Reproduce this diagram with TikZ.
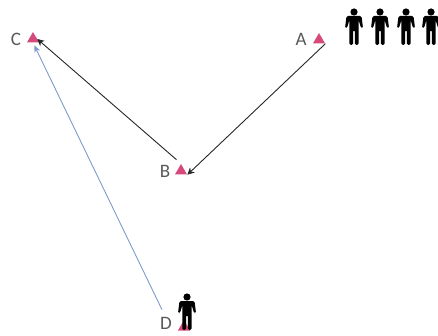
\documentclass[tikz,border=0pt]{standalone}
\usepackage{fontspec}
\setmainfont{Carlito}
\usetikzlibrary{shapes.geometric,arrows.meta}
\tikzset{
  site/.style={regular polygon, regular polygon sides=3, fill=sitepink, inner sep=0pt, minimum size=14pt},
  sitelabel/.style={text=black!65, font=\fontsize{19pt}{19pt}\selectfont, inner sep=0pt},
  route/.style={-{Stealth[length=7pt,width=7pt]}, line width=0.9pt, black!85},
  routeblue/.style={-{Stealth[length=7pt,width=6pt]}, line width=0.9pt, bluegrey},
  person/.pic={
    \fill (0,14) circle (3.6);
    \fill[rounded corners=1.5pt] (-9,-2) -- (-7.5,10) -- (7.5,10) -- (9,-2) -- (7,-2) -- (4.6,6) -- (4.6,-19) -- (0.9,-19) -- (0.9,-4) -- (-0.9,-4) -- (-0.9,-19) -- (-4.6,-19) -- (-4.6,6) -- (-7,-2) -- cycle;
  }
}
\definecolor{sitepink}{HTML}{D6497C}
\definecolor{bluegrey}{HTML}{7F9BC9}
\begin{document}
\begin{tikzpicture}[x=1pt,y=-1pt]
	\useasboundingbox (0,0) rectangle (438,336);
	% sites
	\node[site] (A) at (319,40) {};
	\node[site] (B) at (181,171) {};
	\node[site] (C) at (33,39) {};
	\node[site] (D) at (184,327) {};
	\node[sitelabel] (Alabel) at (301,39) {A};
	\node[sitelabel] (Blabel) at (165,171) {B};
	\node[sitelabel] (Clabel) at (16,39) {C};
	\node[sitelabel] (Dlabel) at (166,323) {D};
	% people
	\foreach \px in {354,380,406,431}
	  \pic[yscale=-1] at (\px,26) {person};
	\pic[yscale=-1] at (187,311) {person};
	% routes
	\draw[route] (A.corner 3) -- (B.corner 3);
	\draw[route,shorten <=6pt] (B.north) -- (C.east);
	\draw[routeblue,shorten >=3pt] (Dlabel.north) ++(-4,-7) -- (C.south);
\end{tikzpicture}
\end{document}
